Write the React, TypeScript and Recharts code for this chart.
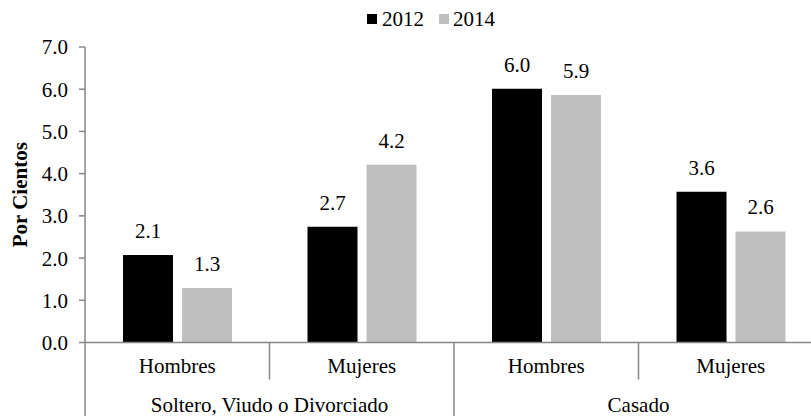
import { Bar, BarChart, LabelList, Legend, XAxis, YAxis, Label } from 'recharts';

const subCategories = ['Hombres', 'Mujeres', 'Hombres', 'Mujeres'];
const groupNames = ['Soltero, Viudo o Divorciado', 'Soltero, Viudo o Divorciado', 'Casado', 'Casado'];
const values2012 = [2.07, 2.74, 6.01, 3.57];
const values2014 = [1.29, 4.21, 5.86, 2.63];
const yTicks = [0, 1, 2, 3, 4, 5, 6, 7];

const data = subCategories.map((sub, i) => ({
  key: `${groupNames[i]}-${sub}-${i}`,
  sub,
  group: groupNames[i],
  y2012: values2012[i],
  y2014: values2014[i],
}));

const FONT = "'Liberation Serif', 'Times New Roman', Times, 'DejaVu Serif', serif";
const FS = 21;
const AXIS_COLOR = '#868686';
const CHART_W = 823;
const CHART_H = 416;
const Y_AXIS_W = 85;
const X_AXIS_H = 73.5;
const CAT_W = (CHART_W - Y_AXIS_W) / subCategories.length;

const CategoryTick = (props: any) => {
  const { x, y, index } = props;
  const axisY = y - 8; // tick y sits tickSize + tickMargin below the axis line
  const row = data[index];
  const left = x - CAT_W / 2;
  const groupStart = index === 0 || row.group !== data[index - 1].group;
  let groupEnd = index;
  while (groupEnd + 1 < data.length && data[groupEnd + 1].group === row.group) groupEnd++;
  const groupCenter = left + ((groupEnd - index + 1) * CAT_W) / 2;
  return (
    <g>
      <line
        x1={left}
        x2={left}
        y1={axisY}
        y2={groupStart ? CHART_H : axisY + 37}
        stroke={AXIS_COLOR}
        strokeWidth={1.5}
      />
      <text x={x} y={axisY + 30} textAnchor="middle" style={{ fontSize: FS, fontFamily: FONT, fill: '#000' }}>
        {row.sub}
      </text>
      {groupStart && (
        <text x={groupCenter} y={axisY + 69} textAnchor="middle" style={{ fontSize: FS, fontFamily: FONT, fill: '#000' }}>
          {row.group}
        </text>
      )}
    </g>
  );
};

const LegendContent = () => (
  <div
    style={{
      height: 30,
      display: 'flex',
      alignItems: 'center',
      paddingLeft: 367,
      fontFamily: FONT,
      fontSize: FS,
      color: '#000',
    }}
  >
    <span style={{ width: 10, height: 10, background: '#000', display: 'inline-block', marginRight: 5 }} />
    <span style={{ marginRight: 15 }}>2012</span>
    <span style={{ width: 10, height: 10, background: '#bfbfbf', display: 'inline-block', marginRight: 4 }} />
    <span>2014</span>
  </div>
);

export default function App() {
  return (
    <div style={{ position: 'absolute', left: 0, top: 0, width: 811, height: 416, overflow: 'hidden', background: '#fff', fontFamily: FONT }}>
      <BarChart
        width={CHART_W}
        height={CHART_H}
        data={data}
        margin={{ top: 17, right: 0, bottom: 0, left: 0 }}
        barSize={50}
        barGap={9}
        style={{ fontFamily: FONT }}
      >
        <Legend verticalAlign="top" content={<LegendContent />} wrapperStyle={{ top: 4, left: 0 }} />
        <XAxis
          dataKey="key"
          height={X_AXIS_H}
          tickLine={false}
          axisLine={{ stroke: AXIS_COLOR, strokeWidth: 1.5 }}
          tick={<CategoryTick />}
          interval={0}
        />
        <YAxis
          width={Y_AXIS_W}
          domain={[0, 7]}
          ticks={yTicks}
          tickFormatter={(v: number) => v.toFixed(1)}
          tickSize={6}
          tickMargin={11}
          tickLine={{ stroke: AXIS_COLOR, strokeWidth: 1.5 }}
          axisLine={{ stroke: AXIS_COLOR, strokeWidth: 1.5 }}
          tick={{ fontSize: FS, fontFamily: FONT, fill: '#000', style: { fontFamily: FONT } }}
        >
          <Label
            value="Por Cientos"
            angle={-90}
            position="insideLeft"
            offset={0}
            style={{ fontSize: FS, fontFamily: FONT, fontWeight: 'bold', fill: '#000', textAnchor: 'middle' }}
            dx={20}
          />
        </YAxis>
        <Bar dataKey="y2012" name="2012" fill="#000000" isAnimationActive={false}>
          <LabelList
            dataKey="y2012"
            position="top"
            offset={17}
            formatter={(v: any) => Number(v).toFixed(1)}
            style={{ fontSize: FS, fontFamily: FONT, fill: '#000' }}
          />
        </Bar>
        <Bar dataKey="y2014" name="2014" fill="#bfbfbf" isAnimationActive={false}>
          <LabelList
            dataKey="y2014"
            position="top"
            offset={17}
            formatter={(v: any) => Number(v).toFixed(1)}
            style={{ fontSize: FS, fontFamily: FONT, fill: '#000' }}
          />
        </Bar>
      </BarChart>
    </div>
  );
}
